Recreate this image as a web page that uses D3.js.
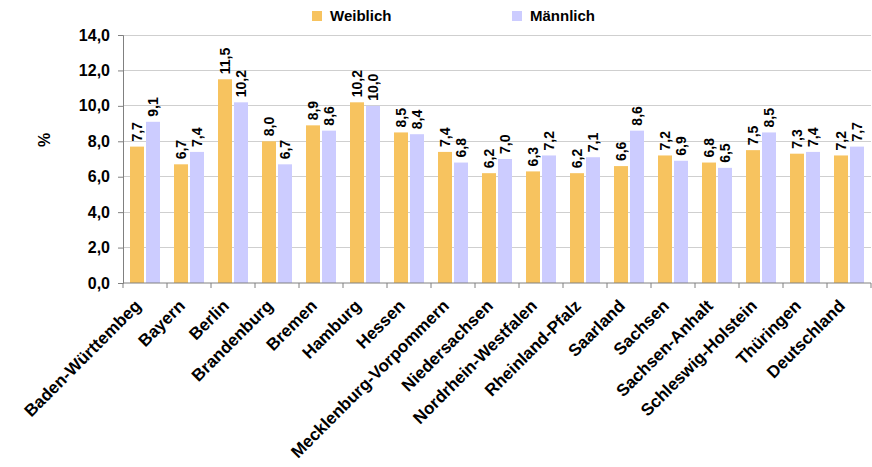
<!DOCTYPE html>
<html><head><meta charset="utf-8">
<script src="https://cdn.jsdelivr.net/npm/d3@7"></script>
<style>body{margin:0;background:#fff}svg{display:block;font-family:Arial,"Liberation Sans",sans-serif}</style>
</head><body>
<svg id="c" width="872" height="467"></svg>
<script>
const categories = ["Baden-Württembeg","Bayern","Berlin","Brandenburg","Bremen","Hamburg","Hessen","Mecklenburg-Vorpommern","Niedersachsen","Nordrhein-Westfalen","Rheinland-Pfalz","Saarland","Sachsen","Sachsen-Anhalt","Schleswig-Holstein","Thüringen","Deutschland"];
const weiblich = [7.7,6.7,11.5,8.0,8.9,10.2,8.5,7.4,6.2,6.3,6.2,6.6,7.2,6.8,7.5,7.3,7.2];
const maennlich = [9.1,7.4,10.2,6.7,8.6,10.0,8.4,6.8,7.0,7.2,7.1,8.6,6.9,6.5,8.5,7.4,7.7];
const seriesNames = ["Weiblich","Männlich"];
const seriesColors = ["#F7C35F","#CCCCFF"];
const yTicks = [0,2,4,6,8,10,12,14];
const yLabel = "%";

(function(){
const svg = d3.select("#c");
const pLeft = 123, pRight = 871, pTop = 35, pBottom = 283;
const x = d3.scaleBand().domain(categories).range([pLeft, pRight]).padding(0);
const bw = x.bandwidth();
const x1 = d3.scaleBand().domain(seriesNames).range([bw*7/44, bw*37/44]).paddingInner(0.125);
const y = d3.scaleLinear().domain([0,14]).range([pBottom, pTop]);
const fmt = v => d3.format(".1f")(v).replace(".", ",");

// grid
svg.append("g").selectAll("line").data(yTicks.filter(d=>d>0)).join("line")
  .attr("x1", pLeft).attr("x2", pRight).attr("y1", d=>y(d)).attr("y2", d=>y(d))
  .attr("stroke", "#CFCFCF").attr("stroke-width", 1).attr("shape-rendering","crispEdges");

// bars
const data = categories.map((c,i)=>({c, vals:[weiblich[i], maennlich[i]]}));
const g = svg.append("g").selectAll("g").data(data).join("g").attr("transform", d=>`translate(${x(d.c)},0)`);
g.selectAll("rect").data(d=>d.vals.map((v,j)=>({v, s:seriesNames[j], j}))).join("rect")
  .attr("x", d=>x1(d.s)).attr("width", x1.bandwidth())
  .attr("y", d=>y(d.v)).attr("height", d=>y(0)-y(d.v))
  .attr("fill", d=>seriesColors[d.j]);
g.selectAll("text").data(d=>d.vals.map((v,j)=>({v, s:seriesNames[j], j}))).join("text")
  .attr("transform", d=>`translate(${x1(d.s)+x1.bandwidth()/2},${y(d.v)-5}) rotate(-90)`)
  .attr("dy","0.36em").attr("text-anchor","start")
  .attr("font-size", 14).attr("font-weight","bold").attr("fill","#000")
  .text(d=>fmt(d.v));

// y axis
const ya = svg.append("g").attr("transform", `translate(${pLeft},0)`)
  .call(d3.axisLeft(y).tickValues(yTicks).tickSize(5).tickPadding(8).tickFormat(fmt));
ya.select(".domain").attr("stroke","#808080");
ya.selectAll(".tick line").attr("stroke","#808080");
ya.selectAll(".tick text").attr("font-size",16).attr("font-weight","bold").attr("fill","#000").attr("font-family","Arial, 'Liberation Sans', sans-serif");

// x axis
const xa = svg.append("g").attr("transform", `translate(0,${pBottom})`);
xa.append("line").attr("x1", pLeft).attr("x2", pRight).attr("stroke","#808080");
const bounds = categories.map(c=>x(c)).concat([pRight]);
xa.selectAll("line.t").data(bounds).join("line").attr("class","t")
  .attr("x1", d=>d).attr("x2", d=>d).attr("y1",0).attr("y2",5).attr("stroke","#808080");
xa.selectAll("text").data(categories).join("text")
  .attr("transform", d=>`translate(${x(d)+bw/2-3},${24}) rotate(-45)`)
  .attr("text-anchor","end").attr("font-size",17).attr("font-weight","bold").attr("fill","#000")
  .text(d=>d);

// y label
svg.append("text").attr("transform","translate(44,140) rotate(-90)")
  .attr("text-anchor","middle").attr("dy","0.35em").attr("font-size",16).attr("font-weight","bold").text(yLabel);

// legend
const lx = [312, 512];
const lg = svg.append("g").selectAll("g").data(seriesNames).join("g").attr("transform",(d,i)=>`translate(${lx[i]},11)`);
lg.append("rect").attr("width",10).attr("height",10).attr("fill",(d,i)=>seriesColors[i]);
lg.append("text").attr("x",18).attr("y",10).attr("font-size",15).attr("font-weight","bold").text(d=>d);
})();
</script>
</body></html>
